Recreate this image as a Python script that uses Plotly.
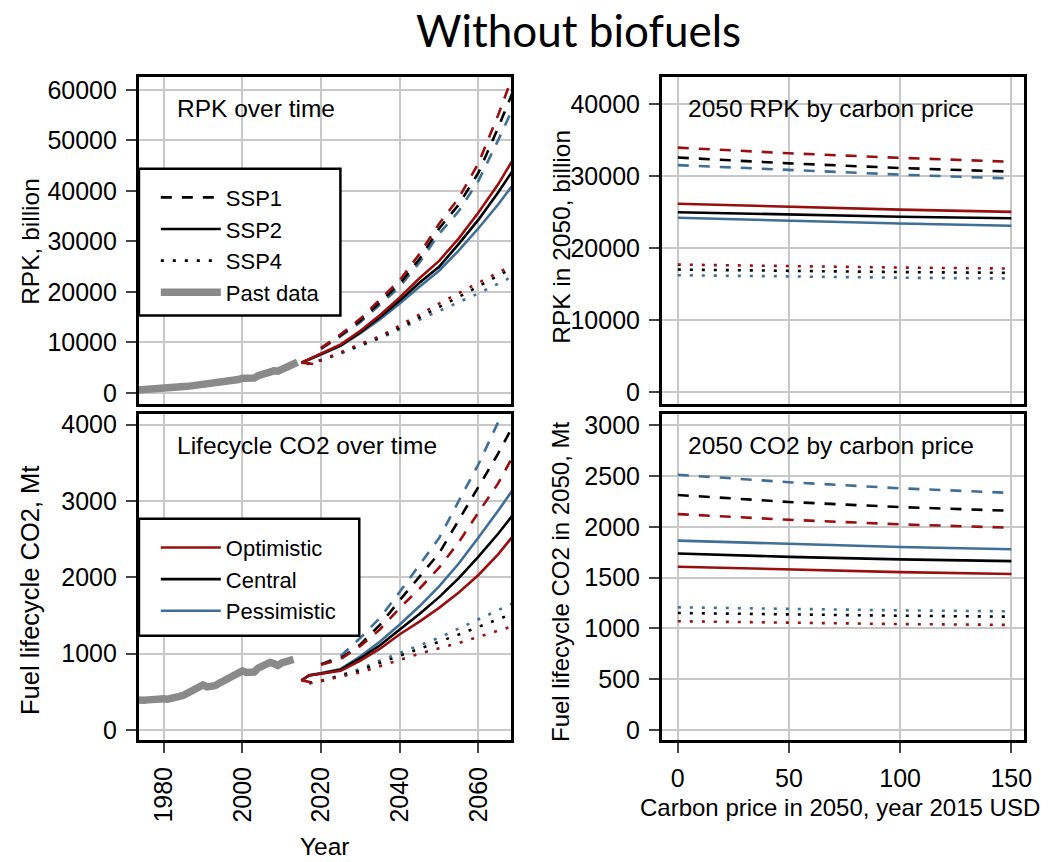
import plotly.graph_objects as go

W, H = 1058, 862
FONT = "Liberation Sans, Arial, sans-serif"
RED = "#990F0F"
BLACK = "#000000"
BLUE = "#3F6E96"
GRAY = "#8A8A8A"

# ---------------- data ----------------
past_years_rpk = list(range(1973, 2015))
past_rpk = [550, 580, 620, 680, 720, 820, 910, 940, 960, 980, 1040, 1110, 1190, 1280,
            1380, 1470, 1540, 1640, 1610, 1760, 1820, 1960, 2090, 2260, 2400, 2450,
            2620, 2880, 2800, 2830, 2920, 3380, 3720, 3990, 4280, 4350, 4300, 4750,
            5100, 5400, 5700, 6050]
past_years_co2 = list(range(1973, 2014))
past_co2 = [395, 385, 390, 395, 405, 415, 420, 410, 405, 410, 420, 440, 455, 480, 510,
            540, 575, 590, 565, 570, 580, 610, 640, 680, 710, 725, 750, 775, 755, 750,
            760, 810, 840, 860, 885, 870, 845, 880, 895, 905, 925]

# RPK projections (billion)
rpk_ssp1_years = [2020, 2025, 2030, 2035, 2040, 2045, 2050, 2055, 2060, 2065, 2070]
rpk_ssp1 = {
    "Optimistic":  [8900, 11600, 14700, 18500, 22300, 27500, 33500, 38600, 45500, 55000, 65500],
    "Central":     [8800, 11400, 14300, 17900, 21600, 26500, 32550, 37300, 43600, 52500, 62000],
    "Pessimistic": [8700, 11200, 14000, 17500, 21000, 25800, 31500, 36000, 42000, 50000, 58500],
}
rpk_ssp2_years = [2018, 2015, 2018, 2020, 2025, 2030, 2035, 2040, 2045, 2050, 2055, 2060, 2065, 2070]
rpk_ssp2 = {
    "Optimistic":  [5700, 5950, 7050, 7800, 9600, 12300, 15400, 18900, 22700, 26140, 30600, 35700, 41300, 47800],
    "Central":     [None, 5950, 6950, 7700, 9400, 12000, 15000, 18300, 21800, 24960, 29500, 34300, 39700, 45500],
    "Pessimistic": [None, 5950, 6900, 7600, 9300, 11800, 14600, 17700, 21000, 24180, 28200, 32600, 37300, 42500],
}
rpk_ssp4_years = [2016.5, 2020, 2025, 2030, 2035, 2040, 2045, 2050, 2055, 2060, 2065, 2070]
rpk_ssp4 = {
    "Optimistic":  [5700, 6500, 8000, 9700, 11200, 13300, 15500, 17680, 19800, 21800, 23800, 25800],
    "Central":     [5700, 6450, 7900, 9500, 11000, 12900, 15000, 16990, 19000, 21100, 23200, 25300],
    "Pessimistic": [5700, 6400, 7800, 9300, 10800, 12600, 14500, 16210, 17900, 19700, 21600, 23600],
}

# CO2 projections (Mt)
co2_ssp1_years = [2020, 2025, 2030, 2035, 2040, 2045, 2050, 2055, 2060, 2065, 2070]
co2_ssp1 = {
    "Optimistic":  [855, 930, 1100, 1320, 1600, 1850, 2126, 2460, 2850, 3230, 3700],
    "Central":     [860, 940, 1120, 1380, 1700, 2000, 2314, 2750, 3180, 3620, 4100],
    "Pessimistic": [860, 970, 1208, 1470, 1810, 2160, 2513, 3000, 3480, 4030, 4600],
}
co2_ssp2_years = [2017.5, 2015, 2017, 2020, 2025, 2030, 2035, 2040, 2045, 2050, 2055, 2060, 2065, 2070]
co2_ssp2 = {
    "Optimistic":  [625, 650, 715, 735, 775, 910, 1065, 1255, 1420, 1600, 1800, 2030, 2300, 2620],
    "Central":     [None, 650, 715, 740, 790, 940, 1110, 1316, 1520, 1740, 1990, 2270, 2570, 2900],
    "Pessimistic": [None, 650, 720, 745, 800, 965, 1160, 1381, 1620, 1880, 2180, 2520, 2870, 3240],
}
co2_ssp4_years = [2017, 2020, 2025, 2030, 2035, 2040, 2045, 2050, 2055, 2060, 2065, 2070]
co2_ssp4 = {
    "Optimistic":  [610, 640, 700, 755, 840, 925, 1000, 1071, 1140, 1220, 1300, 1380],
    "Central":     [615, 640, 710, 780, 880, 970, 1060, 1152, 1250, 1350, 1450, 1550],
    "Pessimistic": [620, 645, 720, 800, 910, 1010, 1110, 1208, 1330, 1450, 1570, 1690],
}

# 2050 values by carbon price
carbon_price = [0, 50, 100, 150]
rpk2050 = {
    ("SSP1", "Optimistic"):  [33930, 33150, 32510, 31960],
    ("SSP1", "Central"):     [32550, 31750, 31100, 30590],
    ("SSP1", "Pessimistic"): [31500, 30830, 30180, 29630],
    ("SSP2", "Optimistic"):  [26140, 25700, 25320, 25000],
    ("SSP2", "Central"):     [24960, 24600, 24330, 24130],
    ("SSP2", "Pessimistic"): [24180, 23760, 23400, 23080],
    ("SSP4", "Optimistic"):  [17680, 17450, 17270, 17130],
    ("SSP4", "Central"):     [16990, 16780, 16640, 16530],
    ("SSP4", "Pessimistic"): [16210, 16000, 15860, 15750],
}
co22050 = {
    ("SSP1", "Optimistic"):  [2126, 2070, 2025, 1992],
    ("SSP1", "Central"):     [2314, 2245, 2195, 2158],
    ("SSP1", "Pessimistic"): [2513, 2440, 2380, 2334],
    ("SSP2", "Optimistic"):  [1608, 1580, 1555, 1536],
    ("SSP2", "Central"):     [1738, 1705, 1680, 1663],
    ("SSP2", "Pessimistic"): [1865, 1830, 1802, 1780],
    ("SSP4", "Optimistic"):  [1071, 1055, 1043, 1035],
    ("SSP4", "Central"):     [1152, 1137, 1125, 1116],
    ("SSP4", "Pessimistic"): [1208, 1190, 1178, 1169],
}

year_ticks = [1980, 2000, 2020, 2040, 2060]
price_ticks = [0, 50, 100, 150]
rpk_ticks = [0, 10000, 20000, 30000, 40000, 50000, 60000]
co2_ticks = [0, 1000, 2000, 3000, 4000]
rpk2050_ticks = [0, 10000, 20000, 30000, 40000]
co22050_ticks = [0, 500, 1000, 1500, 2000, 2500, 3000]

cases = ["Pessimistic", "Central", "Optimistic"]   # drawing order
case_color = {"Optimistic": RED, "Central": BLACK, "Pessimistic": BLUE}
ssp_dash = {"SSP1": "11px,10px", "SSP2": "solid", "SSP4": "3px,9px"}
LW = 2.6

fig = go.Figure()

def add(x, y, xa, ya, color, dash, width=LW, name=None, legend=None, show=False):
    fig.add_trace(go.Scatter(x=x, y=y, xaxis=xa, yaxis=ya, mode="lines",
                             line=dict(color=color, dash=dash, width=width),
                             name=name, showlegend=show, legend=legend,
                             hoverinfo="skip", connectgaps=False))

# --- top-left: RPK over time
add(past_years_rpk, past_rpk, "x", "y", GRAY, "solid", 7.5)
for ssp, yrs, data in [("SSP4", rpk_ssp4_years, rpk_ssp4), ("SSP1", rpk_ssp1_years, rpk_ssp1),
                       ("SSP2", rpk_ssp2_years, rpk_ssp2)]:
    for c in cases:
        add(yrs, data[c], "x", "y", case_color[c], ssp_dash[ssp])

# --- bottom-left: CO2 over time
add(past_years_co2, past_co2, "x3", "y3", GRAY, "solid", 7.5)
for ssp, yrs, data in [("SSP4", co2_ssp4_years, co2_ssp4), ("SSP1", co2_ssp1_years, co2_ssp1),
                       ("SSP2", co2_ssp2_years, co2_ssp2)]:
    for c in cases:
        add(yrs, data[c], "x3", "y3", case_color[c], ssp_dash[ssp])

# --- right panels
for (ssp, c), vals in rpk2050.items():
    add(carbon_price, vals, "x2", "y2", case_color[c], ssp_dash[ssp])
for (ssp, c), vals in co22050.items():
    add(carbon_price, vals, "x4", "y4", case_color[c], ssp_dash[ssp])

# --- legend entries
for ssp in ["SSP1", "SSP2", "SSP4"]:
    add([None], [None], "x", "y", BLACK, ssp_dash[ssp], LW, ssp, "legend", True)
add([None], [None], "x", "y", GRAY, "solid", 7.5, "Past data", "legend", True)
for c in ["Optimistic", "Central", "Pessimistic"]:
    add([None], [None], "x3", "y3", case_color[c], "solid", LW, c, "legend2", True)

def px(v):
    return v / W

def py(v):
    return 1 - v / H

TICKSIZE = 25
LABSIZE = 24.5
LEGSIZE = 22

common = dict(showline=True, linewidth=3, linecolor="black", mirror=True,
              showgrid=True, gridcolor="#c8c8c8", gridwidth=1.6, zeroline=False,
              ticks="outside", ticklen=10, tickwidth=1.5, tickcolor="#444",
              tickfont=dict(size=TICKSIZE, color="black", family=FONT),
              ticklabelstandoff=4)

XL = [px(140), px(515)]
XR = [px(667), px(1032)]
YT = [py(404), py(75)]
YB = [py(743), py(414)]

fig.update_layout(
    width=W, height=H, margin=dict(l=0, r=0, t=0, b=0),
    paper_bgcolor="white", plot_bgcolor="white",
    font=dict(family=FONT, size=TICKSIZE, color="black"),
    xaxis=dict(common, domain=XL, range=[1973.7, 2068.3], anchor="y",
               tickvals=year_ticks, showticklabels=False, ticks=""),
    yaxis=dict(common, domain=YT, range=[-2160, 62480], anchor="x",
               tickvals=rpk_ticks, ticktext=[str(v) for v in rpk_ticks]),
    xaxis3=dict(common, domain=XL, range=[1973.7, 2068.3], anchor="y3",
                tickvals=year_ticks, ticktext=[str(v) for v in year_ticks], tickangle=-90),
    yaxis3=dict(common, domain=YB, range=[-130, 4143], anchor="x3",
                tickvals=co2_ticks, ticktext=[str(v) for v in co2_ticks]),
    xaxis2=dict(common, domain=XR, range=[-7.14, 155.8], anchor="y2",
                tickvals=price_ticks, showticklabels=False, ticks=""),
    yaxis2=dict(common, domain=YT, range=[-1648, 43690], anchor="x2",
                tickvals=rpk2050_ticks, ticktext=[str(v) for v in rpk2050_ticks]),
    xaxis4=dict(common, domain=XR, range=[-7.14, 155.8], anchor="y4",
                tickvals=price_ticks, ticktext=[str(v) for v in price_ticks]),
    yaxis4=dict(common, domain=YB, range=[-98, 3115], anchor="x4",
                tickvals=co22050_ticks, ticktext=[str(v) for v in co22050_ticks]),
    legend=dict(x=px(157), y=py(175), xanchor="left", yanchor="top",
                bgcolor="rgba(0,0,0,0)", borderwidth=0, itemwidth=60,
                font=dict(size=LEGSIZE, family=FONT, color="black"), tracegroupgap=0),
    legend2=dict(x=px(157), y=py(528), xanchor="left", yanchor="top",
                 bgcolor="rgba(0,0,0,0)", borderwidth=0, itemwidth=60,
                 font=dict(size=LEGSIZE, family=FONT, color="black"), tracegroupgap=0),
    showlegend=True,
)

# legend frames
for (x0, y0, x1, y1) in [(140, 167, 343, 315), (140, 520, 362, 638)]:
    fig.add_shape(type="rect", xref="paper", yref="paper",
                  x0=px(x0), x1=px(x1), y0=py(y1), y1=py(y0),
                  line=dict(color="black", width=2.5), fillcolor="white", layer="above")

def ann(text, x, y, size=LABSIZE, angle=0, xanchor="center", yanchor="middle", family=FONT):
    fig.add_annotation(text=text, x=px(x), y=py(y), xref="paper", yref="paper",
                       showarrow=False, textangle=angle, xanchor=xanchor, yanchor=yanchor,
                       font=dict(size=size, family=family, color="black"))

ann("Without biofuels", 583, 27, size=44, family="Lato, Noto Sans, sans-serif")
ann("RPK over time", 176, 106, xanchor="left")
ann("Lifecycle CO2 over time", 176, 446, xanchor="left")
ann("2050 RPK by carbon price", 691, 106, xanchor="left")
ann("2050 CO2 by carbon price", 691, 446, xanchor="left")
ann("RPK, billion", 30, 240, angle=-90)
ann("Fuel lifecycle CO2, Mt", 30, 592, size=25.5, angle=-90)
ann("RPK in 2050, billion", 565, 236, angle=-90)
ann("Fuel lifecycle CO2 in 2050, Mt", 565, 584, size=24, angle=-90)
ann("Year", 327, 850)
ann("Carbon price in 2050, year 2015 USD", 846, 811, size=24)

fig.write_html("out.html")
